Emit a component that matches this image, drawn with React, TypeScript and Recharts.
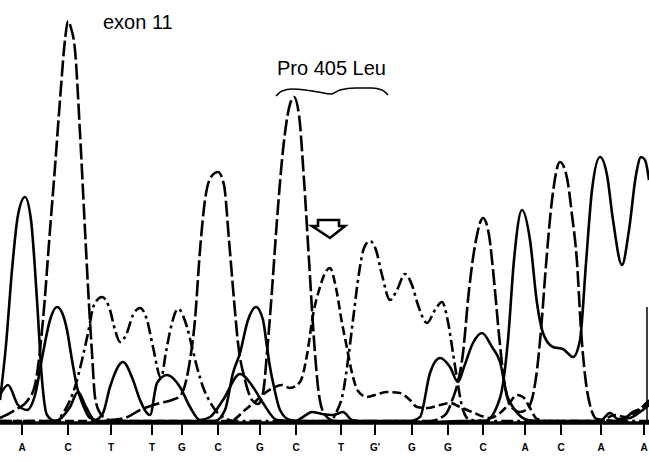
import React from 'react';
import { LineChart, Line, XAxis, YAxis, ReferenceDot, ReferenceLine } from 'recharts';

// Base calls along the bottom axis
const basePositions = [22, 68, 111, 152, 182, 218, 260, 296, 341, 375, 412, 448, 483, 525, 561, 601, 644];
const baseLetters = ['A', 'C', 'T', 'T', 'G', 'C', 'G', 'C', 'T', "G'", 'G', 'G', 'C', 'A', 'C', 'A', 'A'];

// Traces: [position, signal intensity]
const traceSolidA: [number, number][] = [
  [0, 23], [6, 78], [12, 153], [18, 208], [25, 226], [31, 203], [37, 123], [42, 43], [47, 8], [55, 2],
  [70, 16], [78, 31], [86, 16], [95, 3], [103, 10], [110, 36], [123, 61], [133, 43], [140, 23], [150, 8],
  [157, 40], [167, 48], [180, 36], [190, 16], [200, 3], [210, 6], [223, 23], [240, 49], [253, 36], [263, 20],
  [277, 3], [295, 2], [303, 6], [312, 11], [322, 9], [333, 8], [343, 11], [352, 3], [370, 1], [400, 2],
  [430, 1], [460, 2], [485, 2], [500, 25], [508, 83], [514, 163], [522, 213], [530, 183], [537, 120],
  [543, 90], [553, 76], [563, 74], [573, 66], [580, 83], [586, 160], [592, 233], [600, 266], [607, 248],
  [613, 203], [622, 158], [629, 193], [636, 248], [641, 266], [645, 263], [649, 243],
];

const traceSolidG: [number, number][] = [
  [0, 28], [8, 38], [18, 18], [27, 13], [35, 28], [43, 70], [50, 103], [57, 116], [63, 108], [67, 93],
  [72, 63], [77, 36], [83, 18], [90, 5], [100, 2], [215, 2], [225, 13], [233, 50], [240, 70], [248, 103],
  [256, 116], [263, 103], [267, 76], [270, 56], [274, 36], [280, 13], [290, 3], [300, 2], [410, 2],
  [420, 6], [430, 50], [440, 65], [450, 56], [458, 41], [464, 56], [473, 80], [482, 90], [492, 76],
  [500, 61], [507, 28], [515, 13], [528, 3], [540, 2], [600, 2], [610, 10], [618, 4], [630, 5], [640, 11], [649, 18],
];

const traceDashedC: [number, number][] = [
  [0, 5], [15, 13], [28, 23], [35, 38], [43, 103], [50, 193], [55, 256], [60, 323], [65, 383], [68, 402],
  [71, 395], [75, 373], [80, 290], [85, 193], [88, 136], [92, 70], [95, 26], [100, 10], [110, 3], [125, 5],
  [140, 13], [160, 20], [172, 23], [180, 27], [185, 38], [190, 63], [195, 103], [200, 173], [205, 223],
  [211, 246], [218, 251], [224, 238], [229, 183], [234, 123], [238, 80], [245, 43], [252, 23], [258, 19],
  [263, 30], [267, 70], [272, 133], [277, 203], [283, 273], [289, 315], [294, 326], [299, 308], [304, 243],
  [309, 163], [314, 83], [319, 28], [325, 8], [335, 2], [430, 2], [445, 8], [453, 25], [458, 41], [463, 70],
  [469, 133], [476, 183], [483, 205], [489, 188], [494, 143], [499, 88], [504, 43], [510, 18], [520, 11],
  [528, 15], [533, 28], [537, 53], [541, 93], [546, 158], [552, 223], [560, 261], [567, 245], [572, 208],
  [577, 161], [581, 93], [585, 48], [590, 18], [597, 4], [620, 2], [633, 11], [641, 15], [649, 23],
];

const traceDashDotT: [number, number][] = [
  [0, 2], [55, 2], [65, 13], [75, 36], [82, 63], [88, 90], [94, 118], [102, 126], [110, 113], [115, 93],
  [120, 81], [126, 88], [133, 108], [140, 115], [147, 103], [153, 76], [161, 45], [166, 71], [171, 96],
  [178, 114], [187, 96], [192, 76], [197, 56], [203, 36], [210, 21], [220, 8], [235, 2], [330, 2],
  [337, 12], [343, 30], [348, 63], [353, 103], [359, 150], [364, 175], [370, 182], [376, 173], [382, 148],
  [390, 123], [397, 133], [405, 149], [412, 138], [418, 118], [427, 100], [435, 113], [442, 121],
  [448, 101], [453, 70], [458, 38], [463, 13], [470, 3], [490, 2], [649, 2],
];

const traceShortDash: [number, number][] = [
  [0, 2], [230, 2], [245, 13], [257, 23], [265, 30], [273, 35], [282, 38], [290, 35], [300, 41], [307, 68],
  [313, 108], [320, 136], [325, 150], [330, 155], [336, 135], [342, 100], [347, 75], [352, 50], [358, 32],
  [367, 26], [378, 29], [387, 31], [400, 30], [410, 23], [417, 16], [427, 15], [440, 18], [450, 20],
  [460, 16], [472, 11], [490, 5], [500, 10], [508, 18], [517, 28], [523, 26], [530, 15], [537, 4],
  [550, 2], [600, 2], [615, 8], [625, 6], [635, 10], [644, 17], [649, 20],
];

// Codon brace over "Pro 405 Leu"
const braceCurve: [number, number][] = [
  [276, 327], [282, 332], [292, 334], [305, 333], [318, 331], [331, 329], [340, 333], [355, 335],
  [372, 335], [382, 333], [388, 328],
];

const toRows = (t: [number, number][]) => t.map(([x, y]) => ({ x, y }));

const BaseTick = (props: any) => {
  const { x, y, payload } = props;
  const i = basePositions.indexOf(payload.value);
  return (
    <text x={x} y={y + 16} textAnchor="middle" fontSize={10} fontWeight={900}
      fontFamily="'Liberation Sans', Arial, sans-serif" fill="#000">
      {i >= 0 ? baseLetters[i] : ''}
    </text>
  );
};

// Hollow down-pointing arrow marking the mutated base
const ArrowShape = (props: any) => {
  const { cx, cy } = props;
  const pts = [
    [cx - 11, cy - 8], [cx + 10, cy - 8], [cx + 10, cy - 2], [cx + 16, cy - 2], [cx + 1, cy + 10],
    [cx - 17, cy - 2], [cx - 11, cy - 2],
  ].map((p) => p.join(',')).join(' ');
  return <polygon points={pts} fill="#fff" stroke="#000" strokeWidth={2.6} strokeLinejoin="miter" />;
};

const common = {
  type: 'monotone' as const,
  dataKey: 'y',
  stroke: '#000',
  strokeWidth: 2.6,
  dot: false,
  activeDot: false,
  isAnimationActive: false,
};

export default function App() {
  return (
    <div style={{ position: 'absolute', left: 0, top: 0, width: 649, height: 462, background: '#fff' }}>
      <LineChart width={649} height={462} margin={{ top: 0, right: 0, bottom: 0, left: 0 }}>
        <XAxis
          type="number"
          dataKey="x"
          domain={[0, 649]}
          allowDataOverflow
          ticks={basePositions}
          interval={0}
          height={39}
          tickSize={12}
          tickMargin={0}
          axisLine={{ stroke: '#000', strokeWidth: 3.5 }}
          tickLine={{ stroke: '#000', strokeWidth: 2 }}
          tick={<BaseTick />}
        />
        <YAxis hide type="number" domain={[0, 423]} allowDataOverflow />
        <Line {...common} data={toRows(traceSolidA)} />
        <Line {...common} data={toRows(traceSolidG)} />
        <Line {...common} data={toRows(traceDashedC)} strokeDasharray="16 4" />
        <Line {...common} data={toRows(traceDashDotT)} strokeDasharray="12 4 3 4" />
        <Line {...common} data={toRows(traceShortDash)} strokeDasharray="9 4" />
        <Line {...common} data={toRows(braceCurve)} strokeWidth={1.6} />
        <ReferenceLine segment={[{ x: 647, y: 116 }, { x: 647, y: 0 }]} stroke="#000" strokeWidth={1.5} />
        <ReferenceDot x={329} y={195} r={1} shape={<ArrowShape />} />
        <text x={103} y={29} fontSize={20} fontFamily="'Liberation Sans', Arial, sans-serif" fill="#000">exon 11</text>
        <text x={277} y={75} fontSize={20} fontFamily="'Liberation Sans', Arial, sans-serif" fill="#000">Pro 405 Leu</text>
      </LineChart>
    </div>
  );
}
